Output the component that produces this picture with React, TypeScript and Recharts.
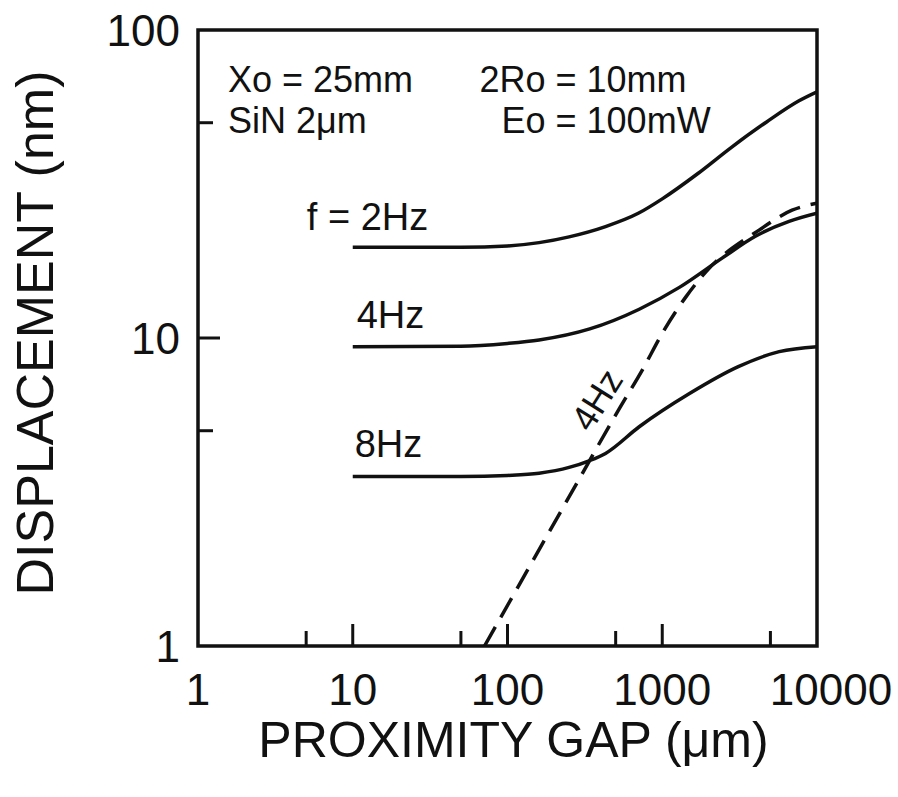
import { LineChart, Line, XAxis, YAxis, ReferenceArea, ReferenceDot } from "recharts"

const FONT = '"Liberation Sans", Arial, Helvetica, sans-serif'
const INK = "#111"

// proximity gap (µm) and displacement (nm), one pair of arrays per curve
const gap2Hz = [10, 50, 100, 160, 250, 430, 700, 1000, 1700, 2800, 4700, 7600, 10000]
const disp2Hz = [19.7, 19.7, 19.9, 20.4, 21.3, 23.0, 25.4, 28.3, 34.2, 41.6, 50.2, 58.8, 63]

const gap4Hz = [10, 50, 100, 160, 340, 710, 1290, 2450, 4000, 6600, 10000]
const disp4Hz = [9.37, 9.4, 9.6, 9.85, 10.7, 12.4, 14.6, 18.2, 21.4, 23.9, 25.4]

const gap8Hz = [10, 50, 100, 160, 250, 340, 430, 710, 1500, 3100, 5700, 10000]
const disp8Hz = [3.55, 3.55, 3.58, 3.64, 3.8, 4.0, 4.22, 5.15, 6.6, 8.07, 9.03, 9.37]

// dashed 4Hz limit line
const gapLimit = [71, 264, 528, 746, 1005, 1422, 1914, 4223, 6900, 10000]
const dispLimit = [1, 3.2, 5.9, 7.9, 10.4, 13.6, 16.4, 22.4, 26.0, 27.4]

const xTicks = [1, 5, 10, 50, 100, 500, 1000, 5000, 10000]
const xLabels = ["1", "10", "100", "1000", "10000"]
const yTicks = [1, 5, 10, 50, 100]
const yLabels = ["1", "10", "100"]

const toRows = (xs: number[], ys: number[]) => xs.map((x, i) => ({ x, y: ys[i] }))

function XTick({ x, y, payload }: any) {
  const v = payload.value
  const label = xLabels.find((l) => Number(l) === v)
  const len = label ? 22 : 15
  // the last label hangs a little past the frame
  const nudge = v === 10000 ? 14 : 0
  return (
    <g>
      {v > 1 && v < 10000 && (
        <line x1={x} x2={x} y1={y} y2={y - len} stroke={INK} strokeWidth={3} />
      )}
      {label && (
        <text x={x + nudge} y={y + 59} textAnchor="middle" fontSize={44} fontFamily={FONT} fill={INK}>
          {label}
        </text>
      )}
    </g>
  )
}

function YTick({ x, y, payload }: any) {
  const v = payload.value
  const label = yLabels.find((l) => Number(l) === v)
  const len = label ? 22 : 15
  return (
    <g>
      {v > 1 && v < 100 && (
        <line x1={x} x2={x + len} y1={y} y2={y} stroke={INK} strokeWidth={3} />
      )}
      {label && (
        <text x={x - 18} y={y + 16} textAnchor="end" fontSize={44} fontFamily={FONT} fill={INK}>
          {label}
        </text>
      )}
    </g>
  )
}

function XTitle({ viewBox }: any) {
  return (
    <text
      x={viewBox.x + viewBox.width / 2 + 6}
      y={viewBox.y + 111}
      textAnchor="middle"
      fontSize={50}
      fontFamily={FONT}
      fill={INK}
    >
      PROXIMITY GAP (μm)
    </text>
  )
}

function YTitle({ viewBox }: any) {
  const cx = 53
  const cy = viewBox.y + viewBox.height / 2 - 5
  return (
    <text
      x={cx}
      y={cy}
      transform={`rotate(-90 ${cx} ${cy})`}
      textAnchor="middle"
      fontSize={52}
      fontFamily={FONT}
      fill={INK}
    >
      DISPLACEMENT (nm)
    </text>
  )
}

function Note({ viewBox, text, rot = 0, anchor = "start", shift = 0, size = 36 }: any) {
  const { x, y } = viewBox
  return (
    <text
      x={x}
      y={y}
      dy={shift}
      textAnchor={anchor}
      fontSize={size}
      fontFamily={FONT}
      fill={INK}
      transform={rot ? `rotate(${rot} ${x} ${y})` : undefined}
    >
      {text}
    </text>
  )
}

export default function App() {
  return (
    <div style={{ position: "absolute", left: 0, top: 0, width: 898, height: 797, background: "#fff" }}>
      <LineChart width={898} height={797} margin={{ top: 30, right: 81, bottom: 0, left: 0 }}>
        <XAxis
          type="number"
          dataKey="x"
          scale="log"
          domain={[1, 10000]}
          ticks={xTicks}
          interval={0}
          allowDataOverflow
          axisLine={false}
          tickLine={false}
          tickSize={0}
          tickMargin={0}
          tick={<XTick />}
          height={151}
          label={<XTitle />}
        />
        <YAxis
          type="number"
          dataKey="y"
          scale="log"
          domain={[1, 100]}
          ticks={yTicks}
          interval={0}
          allowDataOverflow
          axisLine={false}
          tickLine={false}
          tickSize={0}
          tickMargin={0}
          tick={<YTick />}
          width={198}
          label={<YTitle />}
        />
        <ReferenceArea
          x1={1}
          x2={10000}
          y1={1}
          y2={100}
          fill="none"
          stroke={INK}
          strokeWidth={3.5}
          ifOverflow="visible"
        />
        <Line data={toRows(gap2Hz, disp2Hz)} dataKey="y" type="monotone" stroke={INK} strokeWidth={3.5} dot={false} isAnimationActive={false} />
        <Line data={toRows(gap4Hz, disp4Hz)} dataKey="y" type="monotone" stroke={INK} strokeWidth={3.5} dot={false} isAnimationActive={false} />
        <Line data={toRows(gap8Hz, disp8Hz)} dataKey="y" type="monotone" stroke={INK} strokeWidth={3.5} dot={false} isAnimationActive={false} />
        <Line
          data={toRows(gapLimit, dispLimit)}
          dataKey="y"
          type="monotone"
          stroke={INK}
          strokeWidth={3.5}
          strokeDasharray="22 11"
          dot={false}
          isAnimationActive={false}
        />
        <ReferenceDot x={1.56} y={62.9} r={0} fill="none" stroke="none" label={<Note text="Xo = 25mm" />} />
        <ReferenceDot x={65.9} y={62.9} r={0} fill="none" stroke="none" label={<Note text="2Ro = 10mm" />} />
        <ReferenceDot x={1.56} y={46.3} r={0} fill="none" stroke="none" label={<Note text="SiN 2μm" />} />
        <ReferenceDot x={91.5} y={46.3} r={0} fill="none" stroke="none" label={<Note text="Eo = 100mW" />} />
        <ReferenceDot x={5.05} y={22.4} r={0} fill="none" stroke="none" label={<Note text="f = 2Hz" size={38} />} />
        <ReferenceDot x={10.6} y={10.78} r={0} fill="none" stroke="none" label={<Note text="4Hz" size={38} />} />
        <ReferenceDot x={10.3} y={4.11} r={0} fill="none" stroke="none" label={<Note text="8Hz" size={38} />} />
        <ReferenceDot
          x={380}
          y={6.29}
          r={0}
          fill="none"
          stroke="none"
          label={<Note text="4Hz" rot={-58} anchor="middle" shift={12} />}
        />
      </LineChart>
    </div>
  )
}
